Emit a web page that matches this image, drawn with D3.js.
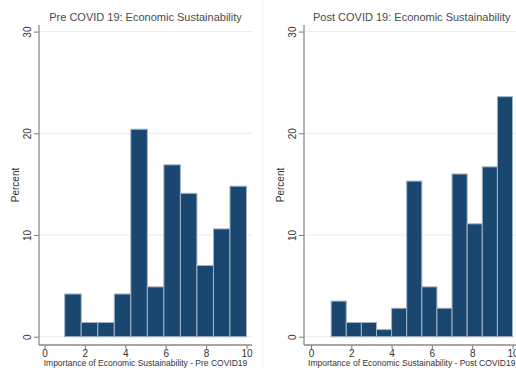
<!DOCTYPE html>
<html>
<head>
<meta charset="utf-8">
<script src="https://cdn.jsdelivr.net/npm/d3@7"></script>
<style>
  html, body { margin: 0; padding: 0; background: #ffffff; }
  svg { display: block; font-family: "Liberation Sans", Arial, sans-serif; }
</style>
</head>
<body>
<svg id="chart" width="516" height="368"></svg>
<script>
// Histogram bins run from 1 to 10; bar heights are percentages.
const preTitle = "Pre COVID 19: Economic Sustainability";
const preXTitle = "Importance of Economic Sustainability - Pre COVID19";
const prePercent = [4.2, 1.4, 1.4, 4.2, 20.4, 4.9, 16.9, 14.1, 7.0, 10.6, 14.8];

const postTitle = "Post COVID 19: Economic Sustainability";
const postXTitle = "Importance of Economic Sustainability - Post COVID19";
const postPercent = [3.5, 1.4, 1.4, 0.7, 2.8, 15.3, 4.9, 2.8, 16.0, 11.1, 16.7, 23.6];

const binRange = [1, 10];
const xTicks = [0, 2, 4, 6, 8, 10];
const yTicks = [0, 10, 20, 30];
const yLabel = "Percent";

const svg = d3.select("#chart");

const panels = [
  { title: preTitle, xTitle: preXTitle, values: prePercent,
    axisX: 39, plotRight: 252, xRange: [44.5, 246.5], left: 0, right: 262 },
  { title: postTitle, xTitle: postXTitle, values: postPercent,
    axisX: 304, plotRight: 530, xRange: [311, 512.5], left: 263, right: 516 }
];

// faint divider between the two graphs
svg.append("line")
  .attr("x1", 263).attr("x2", 263).attr("y1", 0).attr("y2", 368)
  .attr("stroke", "#efefef").attr("stroke-width", 1);

panels.forEach(p => {
  const g = svg.append("g");
  const x = d3.scaleLinear().domain([0, 10]).range(p.xRange);
  const y = d3.scaleLinear().domain([0, 30]).range([336.7, 31.6]);
  const axisY = 345;

  // horizontal grid
  g.selectAll("line.grid").data(yTicks).join("line")
    .attr("class", "grid")
    .attr("x1", p.axisX).attr("x2", p.plotRight)
    .attr("y1", d => y(d)).attr("y2", d => y(d))
    .attr("stroke", "#ececec").attr("stroke-width", 1);

  // histogram bars
  const n = p.values.length;
  const w = (binRange[1] - binRange[0]) / n;
  g.selectAll("rect.bar").data(p.values).join("rect")
    .attr("class", "bar")
    .attr("x", (d, i) => x(binRange[0] + i * w))
    .attr("width", (d, i) => x(binRange[0] + (i + 1) * w) - x(binRange[0] + i * w))
    .attr("y", d => y(d))
    .attr("height", d => y(0) - y(d))
    .attr("fill", "#1a476f")
    .attr("stroke", "#a3b3c3")
    .attr("stroke-width", 1);

  // y axis
  const yAxis = d3.axisLeft(y).tickValues(yTicks).tickSize(5).tickPadding(0).tickFormat(d3.format("d"));
  const ya = g.append("g").attr("transform", `translate(${p.axisX},0)`).call(yAxis);
  ya.select(".domain").remove();
  ya.selectAll(".tick line").attr("stroke", "#777");
  ya.selectAll(".tick text")
    .attr("x", 0).attr("dy", null)
    .attr("text-anchor", "middle")
    .attr("dominant-baseline", "central")
    .attr("transform", "translate(-12,0) rotate(-90)")
    .attr("font-size", 10).attr("fill", "#333");
  g.append("line")
    .attr("x1", p.axisX).attr("x2", p.axisX).attr("y1", 25).attr("y2", axisY)
    .attr("stroke", "#8a8a8a").attr("stroke-width", 1.3);

  // x axis
  const xAxis = d3.axisBottom(x).tickValues(xTicks).tickSize(4).tickPadding(1).tickFormat(d3.format("d"));
  const xa = g.append("g").attr("transform", `translate(0,${axisY})`).call(xAxis);
  xa.select(".domain").remove();
  xa.selectAll(".tick line").attr("stroke", "#777");
  xa.selectAll(".tick text").attr("font-size", 10).attr("fill", "#333");
  g.append("line")
    .attr("x1", p.axisX).attr("x2", p.plotRight).attr("y1", axisY).attr("y2", axisY)
    .attr("stroke", "#8a8a8a").attr("stroke-width", 1.3);

  // titles
  const cx = (p.xRange[0] + p.xRange[1]) / 2;
  g.append("text")
    .attr("x", cx).attr("y", 21)
    .attr("text-anchor", "middle")
    .attr("font-size", 11).attr("fill", "#4a4a4a")
    .text(p.title);
  g.append("text")
    .attr("x", cx).attr("y", 366)
    .attr("text-anchor", "middle")
    .attr("font-size", 8.5).attr("fill", "#333")
    .text(p.xTitle);
  g.append("text")
    .attr("transform", `translate(${p.axisX - 24},185) rotate(-90)`)
    .attr("text-anchor", "middle")
    .attr("dominant-baseline", "central")
    .attr("font-size", 10).attr("fill", "#333")
    .text(yLabel);
});
</script>
</body>
</html>
